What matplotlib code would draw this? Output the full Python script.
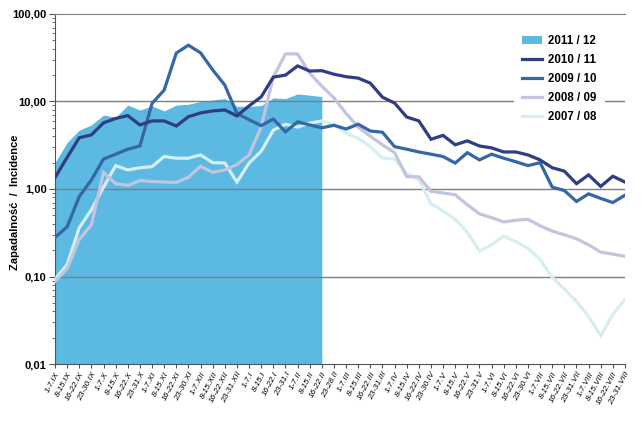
import numpy as np
import matplotlib
matplotlib.use('Agg')
import matplotlib.pyplot as plt
from matplotlib.ticker import FixedLocator, LogLocator, NullFormatter
from matplotlib.patches import Patch
from matplotlib.lines import Line2D

plt.rcParams['font.family'] = ['Liberation Sans', 'DejaVu Sans']

#############
# Data      #
#############
months = ['IX', 'X', 'XI', 'XII', 'I', 'II', 'III', 'IV', 'V', 'VI', 'VII', 'VIII']
last_days = ['30', '31', '30', '31', '31', '28', '31', '30', '31', '30', '31', '31']
weeks = []
for m, d in zip(months, last_days):
    weeks += ['1-7.' + m, '8-15.' + m, '16-22.' + m, '23-' + d + '.' + m]

season_2011 = [2.0, 3.4, 4.7, 5.4, 7.0, 6.6, 9.1, 8.0, 8.9, 7.8, 9.1, 9.3,
               10.0, 10.4, 10.8, 8.8, 8.8, 9.0, 11.0, 10.8, 12.2, 11.8, 11.4]

season_2010 = [1.35, 2.3, 3.85, 4.15, 5.7, 6.4, 6.9, 5.4, 6.0, 6.0, 5.25, 6.7,
               7.4, 7.8, 8.0, 6.85, 8.9, 11.3, 19, 20, 25.5, 22.3, 22.5, 20.5,
               19.2, 18.5, 16.2, 11.2, 9.6, 6.65, 6.0, 3.7, 4.1, 3.2, 3.55, 3.1,
               2.95, 2.65, 2.65, 2.45, 2.15, 1.75, 1.6, 1.15, 1.45, 1.07, 1.4, 1.2]

season_2009 = [0.28, 0.37, 0.82, 1.27, 2.2, 2.5, 2.85, 3.1, 9.5, 13.5, 35.8, 44,
               36, 23, 15.4, 7.3, 6.2, 5.3, 6.3, 4.5, 5.85, 5.4, 5.0, 5.35,
               4.85, 5.5, 4.6, 4.45, 3.05, 2.85, 2.65, 2.5, 2.35, 1.98, 2.6, 2.15,
               2.5, 2.25, 2.05, 1.85, 2.0, 1.05, 0.96, 0.72, 0.88, 0.78, 0.70, 0.85]

season_2008 = [0.088, 0.123, 0.265, 0.39, 1.55, 1.15, 1.1, 1.25, 1.22, 1.2, 1.19, 1.36,
               1.82, 1.55, 1.65, 1.9, 2.45, 5.1, 19, 35, 35, 21, 15, 11,
               7.3, 5.1, 4.0, 3.2, 2.6, 1.38, 1.38, 0.94, 0.9, 0.86, 0.66, 0.52,
               0.47, 0.42, 0.44, 0.45, 0.38, 0.33, 0.3, 0.27, 0.23, 0.19, 0.18, 0.17]

season_2007 = [0.093, 0.137, 0.36, 0.58, 1.05, 1.85, 1.65, 1.75, 1.8, 2.35, 2.25, 2.25,
               2.45, 2.0, 1.98, 1.2, 1.98, 2.7, 4.7, 5.5, 5.1, 5.65, 6.0, 5.4,
               4.35, 3.8, 3.05, 2.25, 2.2, 1.5, 1.28, 0.68, 0.56, 0.45, 0.32, 0.195,
               0.23, 0.29, 0.25, 0.21, 0.157, 0.098, 0.072, 0.052, 0.035, 0.021, 0.037, 0.055]

labels = ['2011 / 12', '2010 / 11', '2009 / 10', '2008 / 09', '2007 / 08']
colors = ['#5bb9e2', '#2f3d82', '#3567a4', '#c3c4e0', '#d6eef0']

#############
# Plot      #
#############
fig = plt.figure(figsize=(6.42, 4.24), dpi=100)
ax = fig.add_axes([0.0857, 0.1415, 0.8878, 0.8255])

x = np.arange(len(weeks))
ax.fill_between(x[:len(season_2011)], 0.001, season_2011, color=colors[0], lw=0, zorder=1)

for y in [0.1, 1, 10]:
    ax.axhline(y, color='#7f7f7f', lw=1.0, zorder=2)

ax.plot(x, season_2007, color=colors[4], lw=2.3, zorder=3, solid_joinstyle='miter')
ax.plot(x, season_2008, color=colors[3], lw=2.3, zorder=4, solid_joinstyle='miter')
ax.plot(x, season_2009, color=colors[2], lw=2.3, zorder=5, solid_joinstyle='miter')
ax.plot(x, season_2010, color=colors[1], lw=2.3, zorder=6, solid_joinstyle='miter')

ax.set_yscale('log')
ax.set_ylim(0.01, 100)
ax.set_xlim(0, len(weeks) - 1)

ax.yaxis.set_major_locator(FixedLocator([0.01, 0.1, 1, 10, 100]))
ax.set_yticklabels(['0,01', '0,10', '1,00', '10,00', '100,00'], fontsize=8, fontweight='bold')
ax.yaxis.set_minor_locator(LogLocator(base=10, subs=np.arange(2, 10)))
ax.yaxis.set_minor_formatter(NullFormatter())
ax.tick_params(axis='y', which='major', length=4, width=0.8, color='#555555', pad=2)
ax.tick_params(axis='y', which='minor', length=2.5, width=0.6, color='#555555')

ax.set_xticks(x)
ax.set_xticklabels(weeks, rotation=62, ha='right', rotation_mode='anchor', fontsize=6, style='italic')
ax.tick_params(axis='x', length=3, width=0.8, color='#555555', pad=2)

ax.spines['right'].set_visible(False)
ax.spines['top'].set_color('#7f7f7f')
ax.spines['left'].set_color('#555555')
ax.spines['bottom'].set_color('#555555')

ax.set_ylabel('Zapadalność  /  Incidence', fontsize=8, fontweight='bold')
ax.yaxis.set_label_coords(-0.062, 0.463)

handles = [Patch(facecolor=colors[0], edgecolor='none')]
handles += [Line2D([0], [0], color=c, lw=2.3) for c in colors[1:]]
leg = ax.legend(handles, labels, loc='upper left', bbox_to_anchor=(0.795, 0.98),
                frameon=True, fancybox=False, edgecolor='none', framealpha=1,
                prop={'weight': 'bold', 'size': 8.3}, handlelength=1.7,
                labelspacing=0.62, borderpad=0.7, handletextpad=0.6)
leg.set_zorder(10)

fig.savefig('out.png', dpi=100)
plt.close()
